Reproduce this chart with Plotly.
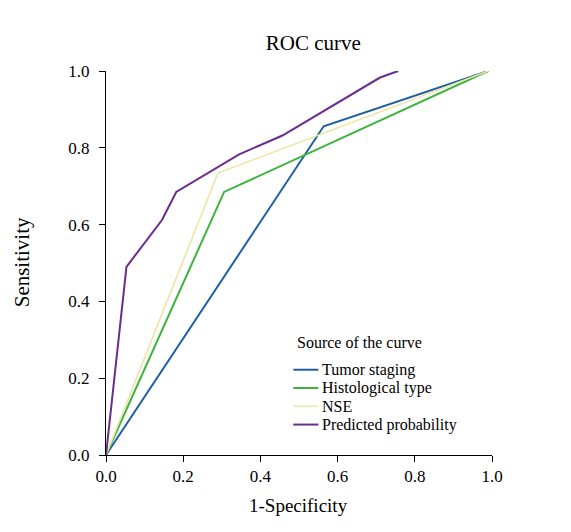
import plotly.graph_objects as go

# ---- data ----
series_names = ["Tumor staging", "Histological type", "NSE", "Predicted probability"]
tumor_x = [0.0, 0.564, 0.99]
tumor_y = [0.0, 0.856, 1.0]
hist_x = [0.0, 0.306, 0.99]
hist_y = [0.0, 0.685, 1.0]
nse_x = [0.0, 0.29, 0.99]
nse_y = [0.0, 0.734, 1.0]
pred_x = [0.0, 0.053, 0.145, 0.182, 0.345, 0.457, 0.71, 0.757]
pred_y = [0.0, 0.49, 0.612, 0.685, 0.783, 0.832, 0.983, 1.0]
tick_vals = [0.0, 0.2, 0.4, 0.6, 0.8, 1.0]
tick_text = ["0.0", "0.2", "0.4", "0.6", "0.8", "1.0"]

xs = [tumor_x, hist_x, nse_x, pred_x]
ys = [tumor_y, hist_y, nse_y, pred_y]
colors = ["#1f5fa6", "#3cb43c", "#ece7a4", "#6b2d8c"]
widths = [2, 2, 1.6, 2]

# page has an 8px body margin; the figure starts at (8, 8)
OFF = 8
PW, PH = 571, 532
W, H = PW - OFF, PH - OFF
PL, PR, PT, PB = 105.7, 491.7, 70.5, 455.5   # plot-area edges in page pixels
L, T = PL - OFF, PT - OFF
R, B = PW - PR, PH - PB
FONT = "Liberation Serif"

def px_x(px):
    return (px - PL) / (PR - PL)

def px_y(py):
    return (PB - py) / (PB - PT)

fig = go.Figure()
for name, x, y, c, w in zip(series_names, xs, ys, colors, widths):
    fig.add_trace(go.Scatter(x=x, y=y, mode="lines", name=name,
                             line=dict(color=c, width=w), showlegend=False))

annotations = [
    dict(text="1-Specificity", x=px_x(298.5), y=px_y(506), xref="paper", yref="paper",
         showarrow=False, font=dict(size=19, family=FONT, color="black"),
         xanchor="center", yanchor="middle"),
    dict(text="Sensitivity", x=px_x(22), y=px_y(262), xref="paper", yref="paper",
         showarrow=False, textangle=-90, font=dict(size=21, family=FONT, color="black"),
         xanchor="center", yanchor="middle"),
    dict(text="Source of the curve", x=px_x(295), y=px_y(342.5), xref="paper", yref="paper",
         showarrow=False, font=dict(size=16, family=FONT, color="black"),
         xanchor="left", yanchor="middle"),
]
shapes = []
legend_rows = [370, 388.3, 406.7, 425]
for name, c, w, row in zip(series_names, colors, widths, legend_rows):
    shapes.append(dict(type="line", xref="paper", yref="paper",
                       x0=px_x(293), x1=px_x(318), y0=px_y(row), y1=px_y(row),
                       line=dict(color=c, width=w)))
    annotations.append(dict(text=name, x=px_x(319.5), y=px_y(row), xref="paper", yref="paper",
                            showarrow=False, font=dict(size=16, family=FONT, color="black"),
                            xanchor="left", yanchor="middle"))

axis_common = dict(range=[0, 1], autorange=False, tickvals=tick_vals, ticktext=tick_text,
                   showgrid=False, zeroline=False, showline=True, linecolor="black",
                   linewidth=1, ticks="outside", ticklen=6, tickcolor="black", tickwidth=1,
                   tickfont=dict(size=17, family=FONT, color="black"))

fig.update_layout(
    width=W, height=H,
    margin=dict(l=L, r=R, t=T, b=B, autoexpand=False),
    paper_bgcolor="white", plot_bgcolor="white",
    title=dict(text="ROC curve", x=px_x(313), xref="paper", xanchor="center",
               y=1 - (43 - OFF) / H, yref="container", yanchor="middle",
               font=dict(size=21, family=FONT, color="black")),
    xaxis=axis_common,
    yaxis=dict(axis_common, ticklabelstandoff=6),
    annotations=annotations, shapes=shapes,
    showlegend=False,
)

fig.write_html("out.html")
